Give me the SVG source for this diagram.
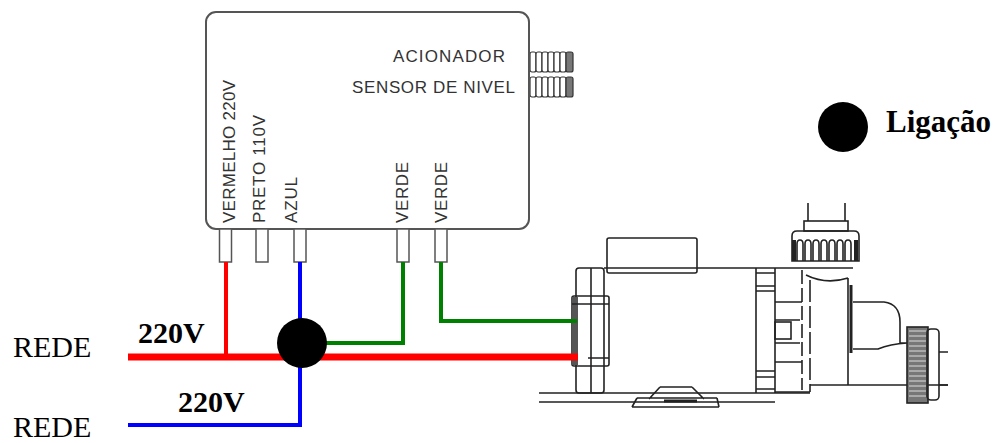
<svg xmlns="http://www.w3.org/2000/svg" width="1004" height="443" viewBox="0 0 1004 443">
<style>
.box{fill:#fff;stroke:#555;stroke-width:2}
.pin{fill:#fff;stroke:#555;stroke-width:1.5}
.lbl{font-family:"Liberation Sans",Arial,sans-serif;font-size:17px;fill:#333}
.big{font-family:"Liberation Serif","Times New Roman",serif;font-size:30px;fill:#000}
.bold{font-weight:bold}
.ln{fill:none;stroke:#222;stroke-width:1.6}
.w{fill:none;stroke-linecap:butt;stroke-linejoin:miter}
.rib{fill:#fff;stroke:#333;stroke-width:1.2}
</style>
<defs>
<g id="cable">
<rect class="rib" x="0" y="0" width="6" height="20" rx="2"/>
<rect class="rib" x="6" y="0" width="6" height="20" rx="2"/>
<rect class="rib" x="12" y="0" width="6" height="20" rx="2"/>
<rect class="rib" x="18" y="0" width="6" height="20" rx="2"/>
<rect class="rib" x="24" y="0" width="6" height="20" rx="2"/>
<rect class="rib" x="30" y="0" width="6" height="20" rx="2"/>
<rect class="rib" x="36" y="0" width="7" height="20" rx="2" style="fill:#777"/>
</g>
</defs>
<rect width="1004" height="443" fill="#fff"/>

<g id="controller">
<use href="#cable" x="530" y="52"/>
<use href="#cable" x="530" y="77"/>
<rect class="box" x="206" y="12" width="323" height="217" rx="10"/>
<rect class="pin" x="219.5" y="229" width="12" height="33"/>
<rect class="pin" x="256" y="229" width="12" height="33"/>
<rect class="pin" x="294" y="229" width="12" height="33"/>
<rect class="pin" x="397" y="229" width="12" height="33"/>
<rect class="pin" x="435" y="229" width="12" height="33"/>
<text class="lbl" x="393" y="62" textLength="112" lengthAdjust="spacing">ACIONADOR</text>
<text class="lbl" x="352" y="93" textLength="163" lengthAdjust="spacing">SENSOR DE NIVEL</text>
<text class="lbl" transform="translate(235,223) rotate(-90)" textLength="143" lengthAdjust="spacing">VERMELHO 220V</text>
<text class="lbl" transform="translate(265,223) rotate(-90)" textLength="108" lengthAdjust="spacing">PRETO 110V</text>
<text class="lbl" transform="translate(297,223) rotate(-90)" textLength="46" lengthAdjust="spacing">AZUL</text>
<text class="lbl" transform="translate(408,223) rotate(-90)" textLength="61" lengthAdjust="spacing">VERDE</text>
<text class="lbl" transform="translate(447,223) rotate(-90)" textLength="61" lengthAdjust="spacing">VERDE</text>
</g>

<g id="pump">
<!-- capacitor box -->
<rect class="ln" x="607" y="238" width="90" height="35" rx="2"/>
<!-- motor body -->
<path class="ln" d="M604 268 H802 M539 393 H810 M539 402 H775"/>
<!-- left end cap -->
<rect class="ln" x="576" y="268" width="28" height="125" rx="3"/>
<path class="ln" d="M591 268 V393"/>
<!-- terminal block -->
<rect class="ln" x="572" y="296" width="37" height="70" rx="2"/>
<rect x="572" y="297" width="6" height="68" fill="#555"/>
<path class="ln" d="M572 304 H609 M588 358 H609"/>
<!-- foot -->
<path class="ln" d="M660 387 H692 M660 387 L649 399 M692 387 L704 399 M637 398 H717 M632 407 H719 M637 398 L632 407 M717 398 L719 407"/>
<path d="M664 401 H697" stroke="#222" stroke-width="3"/>
<!-- flange -->
<path class="ln" d="M756 268 V393 M775 268 V393 M756 273 H775 M756 286 H775 M756 291 H775 M756 371 H775 M756 377 H775 M756 389 H775"/>
<!-- section 2 -->
<path class="ln" d="M775 302 H802 M775 320 H800 M775 343 H800 M775 362 H802 M775 392 H810"/>
<rect class="ln" x="775" y="322" width="16" height="17"/>
<path class="ln" d="M802 270 V390" stroke-dasharray="14,4"/>
<path class="ln" d="M810 280 V392" stroke-dasharray="22,4"/>
<!-- volute -->
<path class="ln" d="M806 275 Q826 285 848 278 M848 278 V385 M810 385 H948"/>
<path d="M851 285 V353" stroke="#222" stroke-width="3"/>
<!-- outlet -->
<path class="ln" d="M853 302 H884 Q900 304 900 322 V343 H907 M853 349 L878 349 Q890 344 907 343"/>
<!-- right knurled nut -->
<rect x="907" y="327" width="21" height="76" fill="#777" stroke="#222" stroke-width="1.6"/>
<path stroke="#ddd" stroke-width="1" d="M909 331 H926 M909 336 H926 M909 341 H926 M909 346 H926 M909 351 H926 M909 356 H926 M909 361 H926 M909 366 H926 M909 371 H926 M909 376 H926 M909 381 H926 M909 386 H926 M909 391 H926 M909 396 H926"/>
<rect class="ln" x="927" y="329" width="12" height="71" rx="4"/>
<path class="ln" d="M939 352 H948 M939 385 H948"/>
<!-- top fitting -->
<path class="ln" d="M808 203 V221 M845 203 V221"/>
<rect class="ln" x="804" y="221" width="44" height="10"/>
<path class="ln" d="M792 261 V236 Q792 231 797 231 H854 Q859 231 859 236 V261 Z"/>
<path class="ln" stroke-width="1.2" d="M797 261 V244 Q797 240 800 240 Q803 240 803 244 V261 M805 261 V244 Q805 240 808 240 Q811 240 811 244 V261 M813 261 V244 Q813 240 816 240 Q819 240 819 244 V261 M821 261 V244 Q821 240 824 240 Q827 240 827 244 V261 M829 261 V244 Q829 240 832 240 Q835 240 835 244 V261 M837 261 V244 Q837 240 840 240 Q843 240 843 244 V261 M845 261 V244 Q845 240 848 240 Q851 240 851 244 V261"/>
<rect x="792" y="240" width="4" height="21" fill="#222"/>
<rect x="854" y="240" width="4" height="21" fill="#222"/>
<path class="ln" d="M802 268 H853"/>
</g>

<g id="connectors">
<path class="w" stroke="#ff0000" stroke-width="4" d="M226 262 V357"/>
<path class="w" stroke="#ff0000" stroke-width="7" d="M128 357 H578"/>
<path class="w" stroke="#0000ff" stroke-width="4" d="M300 262 V425 H128"/>
<path class="w" stroke="#008000" stroke-width="4" d="M403 262 V343 H302"/>
<path class="w" stroke="#008000" stroke-width="4" d="M441 262 V321 H577"/>
</g>

<g id="junction">
<circle cx="302" cy="343" r="25" fill="#000"/>
</g>

<g id="legend">
<circle cx="843" cy="127" r="25" fill="#000"/>
<text class="big bold" x="886" y="132" font-size="31" style="font-size:31px">Ligação</text>
</g>

<g id="labels">
<text class="big" x="13" y="357">REDE</text>
<text class="big" x="13" y="437">REDE</text>
<text class="big bold" x="138" y="343">220V</text>
<text class="big bold" x="178" y="412">220V</text>
</g>
</svg>
